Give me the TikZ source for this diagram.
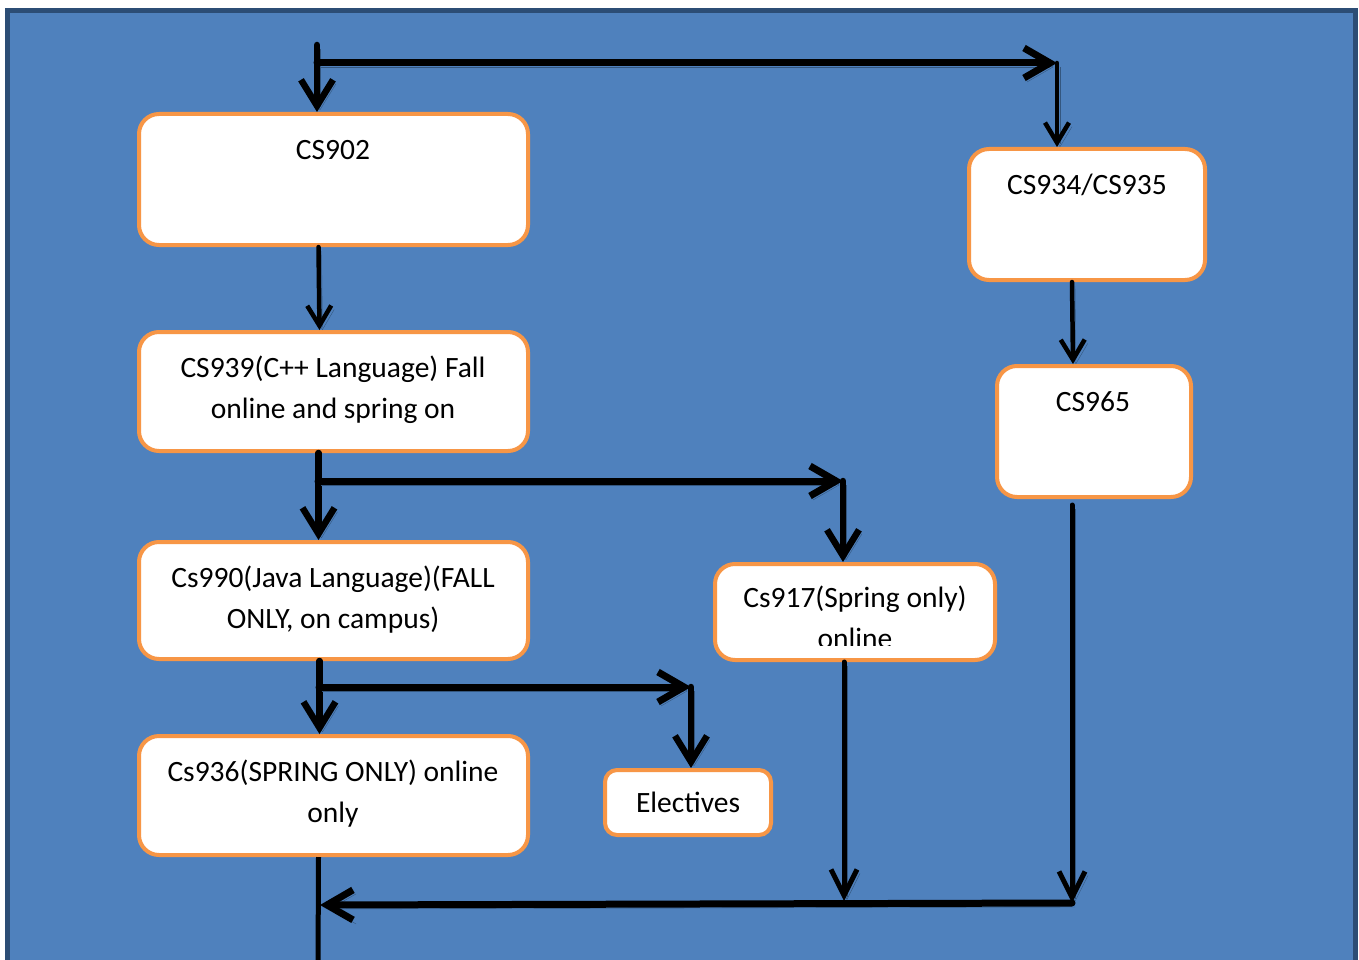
\documentclass[tikz,border=0pt]{standalone}
\usepackage{fontspec}
\setmainfont{Carlito}
\usetikzlibrary{arrows.meta}
\definecolor{bgblue}{HTML}{4F81BD}
\definecolor{frameblue}{HTML}{2C4D75}
\definecolor{boxorange}{HTML}{F79646}
\definecolor{shadowblue}{HTML}{34577F}
\begin{document}
\begin{tikzpicture}[x=1pt,y=-1pt,
  box/.style={draw=boxorange, line width=4pt, fill=white, rounded corners=20pt, inner sep=0pt},
  txt/.style={anchor=base, inner sep=0pt, font=\fontsize{29.5}{41}\selectfont},
  shad/.style={preaction={draw=shadowblue, transform canvas={shift={(3,4)}}}},
  conn/.style={shad, line width=5pt, line cap=round, line join=round, -{Straight Barb[length=26pt,width=26pt]}},
  connthin/.style={shad, line width=4.5pt, line cap=round, line join=round, -{Straight Barb[length=20pt,width=24pt]}},
  connthick/.style={shad, line width=6.5pt, line cap=round, line join=round, -{Straight Barb[length=26pt,width=32pt]}},
  connh/.style={shad, line width=7pt, line cap=round, line join=round, -{Straight Barb[length=26pt,width=30pt]}},
  plainline/.style={line width=5pt}
]
\useasboundingbox (0,0) rectangle (1359,960);
\clip (0,0) rectangle (1359,960);
\fill[white] (0,0) rectangle (1359,960);
\draw[fill=bgblue, draw=frameblue, line width=5pt] (7.5,11) rectangle (1355,980);

% boxes
\node[box, minimum width=389pt, minimum height=131pt] (b902) at (333.5,179.5) {};
\node[box, minimum width=389pt, minimum height=119pt] (b939) at (333.5,391.5) {};
\node[box, minimum width=389pt, minimum height=117pt] (b990) at (333.5,600.5) {};
\node[box, minimum width=389pt, minimum height=119pt] (b936) at (333.5,795.5) {};
\node[box, rounded corners=12pt, minimum width=166pt, minimum height=65pt] (bel) at (688,802.5) {};
\node[box, minimum width=280pt, minimum height=96pt] (b917) at (855,612) {};
\node[box, minimum width=236pt, minimum height=131pt] (b934) at (1087,214.5) {};
\node[box, minimum width=194pt, minimum height=131pt] (b965) at (1094,431.5) {};

% texts
\node[txt] (t902) at (333,160) {CS902};
\node[txt] (t939a) at (333,377) {CS939(C++ Language) Fall};
\node[txt] (t939b) at (333,418) {online and spring on};
\node[txt] (t990a) at (333,587) {Cs990(Java Language)(FALL};
\node[txt] (t990b) at (333,628) {ONLY, on campus)};
\node[txt] (t936a) at (333,781) {Cs936(SPRING ONLY) online};
\node[txt] (t936b) at (333,822) {only};
\node[txt] (tel) at (688,812) {Electives};
\node[txt] (t917a) at (855,607) {Cs917(Spring only)};
\begin{scope}
\clip (713,560) rectangle (997,645);
\node[txt] (t917b) at (855,648) {online};
\end{scope}
\node[txt] (t934) at (1087,194) {CS934/CS935};
\node[txt] (t965) at (1093,411) {CS965};

% junction coordinates
\coordinate (top) at (317,45);
\coordinate (topj) at (317,63);
\coordinate (topr) at (1057,63);
\coordinate (j1) at (318,481);
\coordinate (j1r) at (843,481);
\coordinate (j2) at (319,687);
\coordinate (j2r) at (691,687);
\coordinate (m1) at (844,901);
\coordinate (m2) at (1072,903);
\coordinate (m3) at (320,905);
\coordinate (bot) at (318,970);

% connectors
\draw[connthick] (top) -- (b902.north -| top);
\draw[connh] (topj) -- (topr);
\draw[connthin] (topr) -- (b934.north -| topr);
\draw[connthin] ([xshift=-15pt]b902.south) -- ([xshift=-14pt]b939.north);
\draw[connthick] ([xshift=-15pt]b939.south) -- ([xshift=-15pt]b990.north);
\draw[connh] (j1) -- (j1r);
\draw[connthick] (j1r) -- (b917.north -| j1r);
\draw[connthick] ([xshift=-14pt]b990.south) -- ([xshift=-14pt]b936.north);
\draw[connh] (j2) -- (j2r);
\draw[connthick] (j2r) -- (bel.north -| j2r);
\draw[connthin] ([xshift=-15pt]b934.south) -- ([xshift=-21pt]b965.north);
\draw[conn] ([xshift=-11pt]b917.south) -- (m1);
\draw[conn] ([xshift=-22pt,yshift=-6pt]b965.south) -- (m2);
\draw[plainline] ([xshift=-15pt]b936.south) -- (bot);
\draw[connh] (m2) -- (m3);
\end{tikzpicture}
\end{document}
